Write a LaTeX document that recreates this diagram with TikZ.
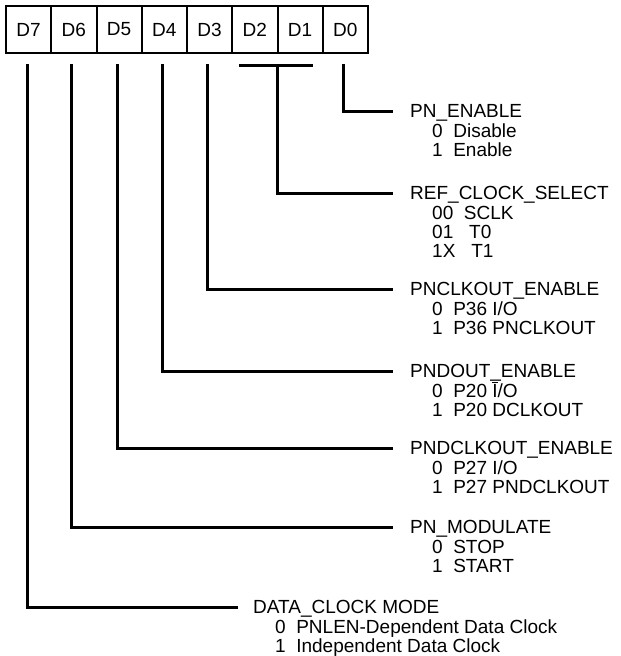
\documentclass[tikz,border=0pt]{standalone}
\usepackage{fontspec}
\setmainfont{Liberation Sans}
\usepackage{tikz}
\usetikzlibrary{positioning, calc}

\begin{document}
\begin{tikzpicture}[x=1pt, y=-1pt,
    bitcell/.style={draw, line width=2pt, minimum width=45.25pt, minimum height=47pt, inner sep=0pt, outer sep=0pt, font=\fontsize{19}{19}\selectfont},
    wire/.style={line width=3pt, line cap=butt},
    campo/.style={anchor=base west, inner sep=0pt, font=\fontsize{19}{19}\selectfont},
    opcoes/.style={anchor=base west, inner sep=0pt, align=left, font=\fontsize{19}{19}\selectfont}]
\useasboundingbox (0,0) rectangle (621,656);

% --- REGISTER BITS ---
\foreach \b [count=\i from 0] in {7,6,5,4,3,2,1,0}
  \node[bitcell] (d\b) at ({6+45.25*(\i+0.5)}, 29.5) {D\b};

% --- LINE ENDS ---
\coordinate (e0) at (393,111);
\coordinate (e1) at (393,193);
\coordinate (e3) at (393,289);
\coordinate (e4) at (393,371);
\coordinate (e5) at (393,448);
\coordinate (e6) at (393,527);
\coordinate (e7) at (238,607);

% --- FIELD NAMES ---
\node[campo] (t0) at (410,117) {PN\_ENABLE};
\node[campo] (t1) at (410,199) {REF\_CLOCK\_SELECT};
\node[campo] (t3) at (410,295) {PNCLKOUT\_ENABLE};
\node[campo] (t4) at (410,377) {PNDOUT\_ENABLE};
\node[campo] (t5) at (410,454) {PNDCLKOUT\_ENABLE};
\node[campo] (t6) at (410,533) {PN\_MODULATE};
\node[campo] (t7) at (253,613) {DATA\_CLOCK MODE};

% --- FIELD VALUES (base = last line) ---
\node[opcoes] (o0) at ([xshift=22pt,yshift=-39pt]t0.base west) {0~~Disable\\1~~Enable};
\node[opcoes] (o1) at ([xshift=22pt,yshift=-58pt]t1.base west) {00~~SCLK\\01~~~T0\\1X~~~T1};
\node[opcoes] (o3) at ([xshift=22pt,yshift=-39pt]t3.base west) {0~~P36 I/O\\1~~P36 PNCLKOUT};
\node[opcoes] (o4) at ([xshift=22pt,yshift=-39pt]t4.base west) {0~~P20 $\overline{\mbox{I}}$/O\\1~~P20 DCLKOUT};
\node[opcoes] (o5) at ([xshift=22pt,yshift=-39pt]t5.base west) {0~~P27 I/O\\1~~P27 PNDCLKOUT};
\node[opcoes] (o6) at ([xshift=22pt,yshift=-39pt]t6.base west) {0~~STOP\\1~~START};
\node[opcoes] (o7) at ([xshift=22pt,yshift=-39pt]t7.base west) {0~~PNLEN-Dependent Data Clock\\1~~Independent Data Clock};

% --- CONNECTORS ---
\draw[wire] ([xshift=-2pt,yshift=-11pt]d0.south) |- (e0);
\draw[wire] ([xshift=-16pt,yshift=-12pt]d2.south) -- ([xshift=13pt,yshift=-12pt]d1.south);
\draw[wire] ([yshift=-12pt]d2.south east) |- (e1);
\draw[wire] ([xshift=-2pt,yshift=-11pt]d3.south) |- (e3);
\draw[wire] ([xshift=-2pt,yshift=-11pt]d4.south) |- (e4);
\draw[wire] ([xshift=-2pt,yshift=-11pt]d5.south) |- (e5);
\draw[wire] ([xshift=-2pt,yshift=-11pt]d6.south) |- (e6);
\draw[wire] ([xshift=-1pt,yshift=-11pt]d7.south) |- (e7);
\end{tikzpicture}
\end{document}
